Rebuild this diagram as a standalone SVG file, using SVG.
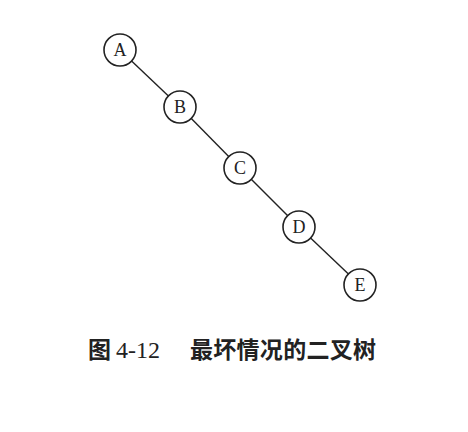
<svg xmlns="http://www.w3.org/2000/svg" width="468" height="432" viewBox="0 0 468 432">
<style>
.n{fill:#fff;stroke:#222;stroke-width:1.6}
.l{font-family:"Liberation Serif",serif;font-size:18px;fill:#222;text-anchor:middle}
.e{stroke:#222;stroke-width:1.4}
.c{font-family:"Liberation Serif","Noto Sans CJK SC",serif;font-size:23px;font-weight:bold;fill:#222}
.num{font-weight:normal;font-size:24px}
</style>
<rect width="468" height="432" fill="#fff"/>
<g id="edges">
<line class="e" x1="120" y1="50" x2="180" y2="107"/>
<line class="e" x1="180" y1="107" x2="240" y2="168"/>
<line class="e" x1="240" y1="168" x2="299" y2="227"/>
<line class="e" x1="299" y1="227" x2="360" y2="285"/>
</g>
<g id="A"><circle class="n" cx="120" cy="50" r="16"/><text class="l" x="120" y="56">A</text></g>
<g id="B"><circle class="n" cx="180" cy="107" r="16"/><text class="l" x="180" y="113">B</text></g>
<g id="C"><circle class="n" cx="240" cy="168" r="16"/><text class="l" x="240" y="174">C</text></g>
<g id="D"><circle class="n" cx="299" cy="227" r="16"/><text class="l" x="299" y="233">D</text></g>
<g id="E"><circle class="n" cx="360" cy="285" r="16"/><text class="l" x="360" y="291">E</text></g>
<g id="caption">
<text class="c" x="88" y="358">图<tspan class="num" x="116">4-12</tspan></text>
<text class="c" x="190" y="358" textLength="186" lengthAdjust="spacing">最坏情况的二叉树</text>
</g>
</svg>
